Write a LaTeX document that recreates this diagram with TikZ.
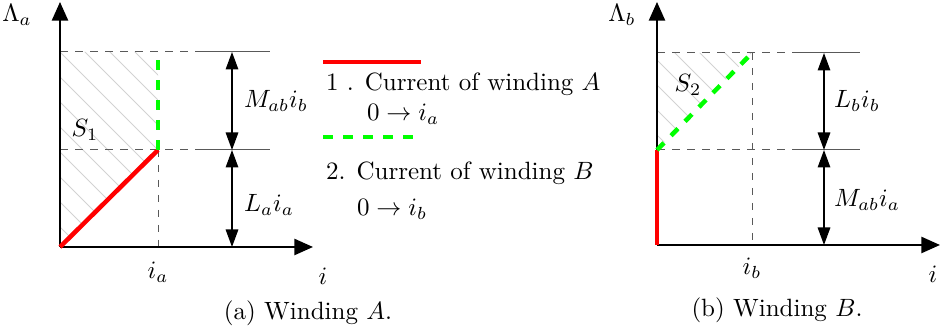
\documentclass[tikz,border=0pt]{standalone}
\usepackage{amsmath}
\usepackage{tikz}
\usetikzlibrary{arrows.meta}

\begin{document}
\begin{tikzpicture}[
    x=0.40pt, y=-0.40pt,
    axis/.style={-{Triangle[length=7.5pt,width=6.5pt]}, line width=0.8pt},
    dimarr/.style={{Triangle[length=7pt,width=5pt]}-{Triangle[length=7pt,width=5pt]}, line width=0.6pt},
    guide/.style={dash pattern=on 3pt off 3pt, color=black!65, line width=0.4pt},
    ext/.style={color=black!65, line width=0.4pt},
    hatch/.style={color=gray!35, line width=0.3pt},
    curA/.style={red, line width=1.8pt},
    curB/.style={green, line width=1.8pt, dash pattern=on 4pt off 4pt},
    lbl/.style={inner sep=1pt},
]
\useasboundingbox (0,0) rectangle (940,330);

% --- Winding A: points ---
\coordinate (Oa) at (60,247);
\coordinate (Ya) at (60,2);
\coordinate (Xa) at (313,247);
\coordinate (Ta) at (60,52);
\coordinate (Ma) at (60,150);
\coordinate (Pa) at (158,150);
\coordinate (Ga) at (158,60);
\coordinate (Ba) at (158,247);
\coordinate (TaE) at (198,52);
\coordinate (TaF) at (270,52);
\coordinate (MaE) at (198,150);
\coordinate (MaF) at (270,150);
\coordinate (Da1) at (232,52);
\coordinate (Da2) at (232,150);
\coordinate (Da3) at (232,247);

% --- Winding A: hatching ---
\begin{scope}
  \clip (Oa) -- (Pa) -- (158,52) -- (Ta) -- cycle;
  \foreach \c in {-192,-167,...,108}
    \draw[hatch] (\c,0) -- ++(400,400);
\end{scope}

% --- Winding A: guides ---
\draw[guide] (Ta) -- (TaE);
\draw[ext] (TaE) -- (TaF);
\draw[guide] (Ma) -- (MaE);
\draw[ext] (MaE) -- (MaF);
\draw[guide] (Pa) -- (Ba);

% --- Winding A: axes ---
\draw[axis] (Oa) -- (Ya);
\draw[axis] (Oa) -- (Xa);

% --- Winding A: currents ---
\draw[curA] (Oa) -- (Pa);
\draw[curB] (Pa) -- (Ga);

% --- Winding A: dimensions ---
\draw[dimarr] (Da1) -- (Da2);
\draw[dimarr] (Da2) -- (Da3);

% --- Winding A: labels ---
\node[lbl] (lama) at (17,15) {$\Lambda_a$};
\node[lbl] (s1) at (85,130) {$S_1$};
\node[lbl] (ia) at (158,272) {$i_a$};
\node[lbl] (xa) at (323,276) {$i$};
\node[lbl] (mabib) at (276,101) {$M_{ab}i_b$};
\node[lbl] (laia) at (269,205) {$L_ai_a$};
\node[lbl] (capa) at (308,313) {(a) Winding $A$.};

% --- Legend ---
\coordinate (La1) at (323,62);
\coordinate (La2) at (421,62);
\coordinate (Lb1) at (323,137);
\coordinate (Lb2) at (413,137);
\draw[curA] (La1) -- (La2);
\draw[curB] (Lb1) -- (Lb2);
\node[lbl, anchor=west] (leg1) at (323,84) {1 . Current of winding $A$};
\node[lbl, anchor=west] (leg1b) at (364,114) {$0\rightarrow i_a$};
\node[lbl, anchor=west] (leg2) at (323,173) {2. Current of winding $B$};
\node[lbl, anchor=west] (leg2b) at (354,209) {$0\rightarrow i_b$};

% --- Winding B: points ---
\coordinate (Ob) at (657,245);
\coordinate (Yb) at (657,2);
\coordinate (Xb) at (940,245);
\coordinate (Tb) at (657,53);
\coordinate (Mb) at (657,150);
\coordinate (Pb) at (752,53);
\coordinate (Bb) at (752,245);
\coordinate (TbE) at (800,53);
\coordinate (TbF) at (860,53);
\coordinate (MbE) at (800,150);
\coordinate (MbF) at (860,150);
\coordinate (Db1) at (824,53);
\coordinate (Db2) at (824,150);
\coordinate (Db3) at (824,245);

% --- Winding B: hatching ---
\begin{scope}
  \clip (Mb) -- (Pb) -- (Tb) -- cycle;
  \foreach \c in {497,522,...,722}
    \draw[hatch] (\c,0) -- ++(400,400);
\end{scope}

% --- Winding B: guides ---
\draw[guide] (Tb) -- (TbE);
\draw[ext] (TbE) -- (TbF);
\draw[guide] (Mb) -- (MbE);
\draw[ext] (MbE) -- (MbF);
\draw[guide] (Pb) -- (Bb);

% --- Winding B: axes ---
\draw[axis] (Ob) -- (Yb);
\draw[axis] (Ob) -- (Xb);

% --- Winding B: currents ---
\draw[curA] (Ob) -- (Mb);
\draw[curB] (Mb) -- (Pb);

% --- Winding B: dimensions ---
\draw[dimarr] (Db1) -- (Db2);
\draw[dimarr] (Db2) -- (Db3);

% --- Winding B: labels ---
\node[lbl] (lamb) at (622,15) {$\Lambda_b$};
\node[lbl] (s2) at (688,85) {$S_2$};
\node[lbl] (ib) at (752,268) {$i_b$};
\node[lbl] (xb) at (933,274) {$i$};
\node[lbl] (lbib) at (857,101) {$L_bi_b$};
\node[lbl] (mabia) at (867,200) {$M_{ab}i_a$};
\node[lbl] (capb) at (777,310) {(b) Winding $B$.};

\end{tikzpicture}
\end{document}
